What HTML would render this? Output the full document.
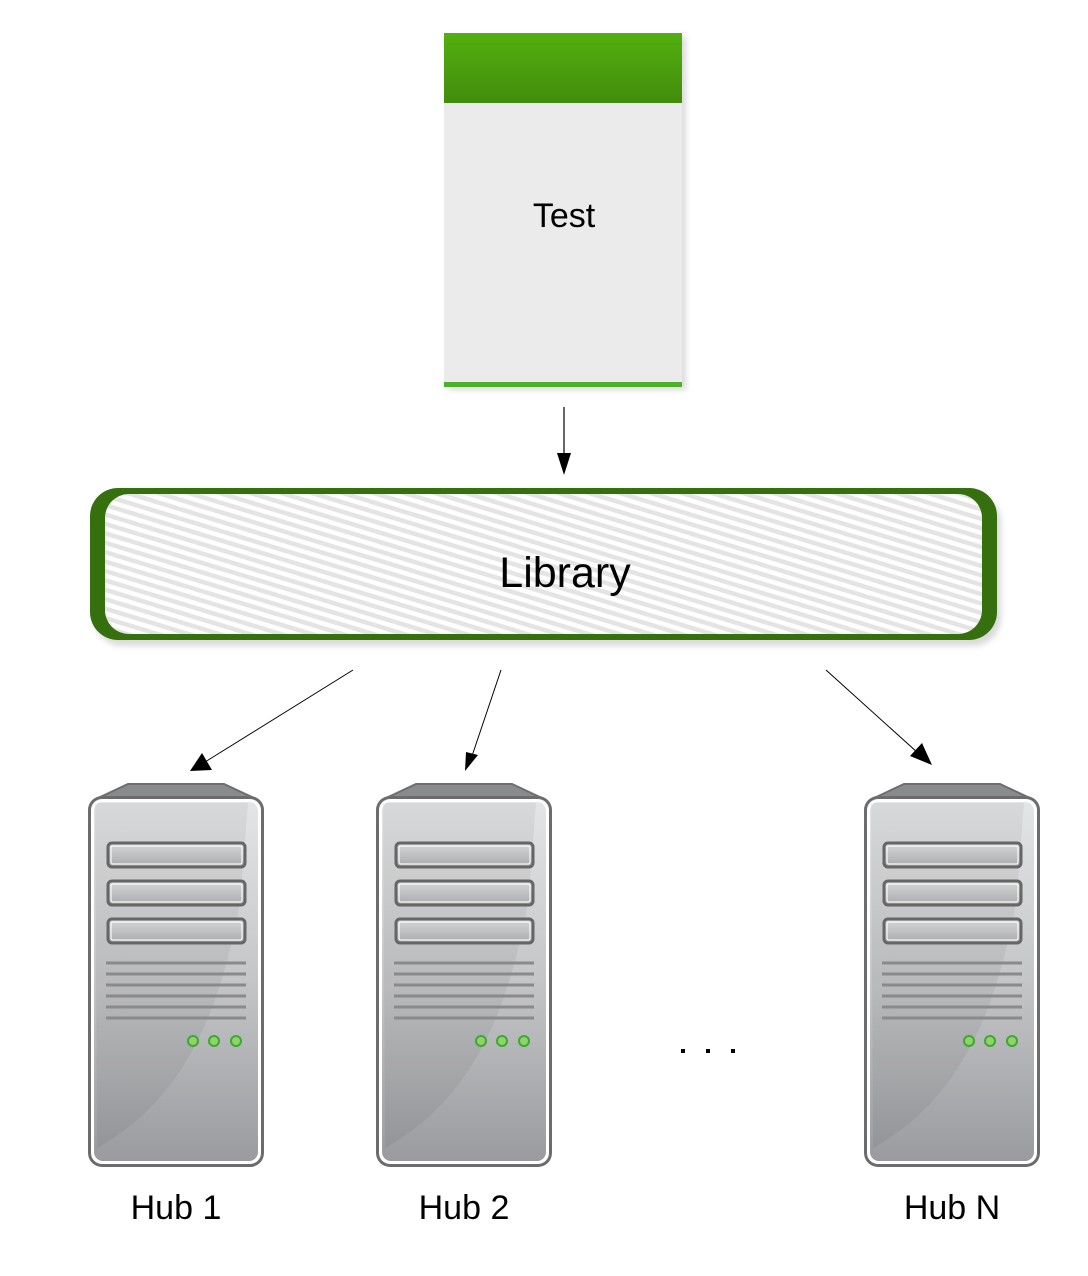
<!DOCTYPE html>
<html><head><meta charset="utf-8"><style>
html,body{margin:0;padding:0;background:#fff;}
svg{display:block;}
</style></head><body>
<svg width="1088" height="1276" viewBox="0 0 1088 1276" xmlns="http://www.w3.org/2000/svg" font-family="Liberation Sans, Arial, sans-serif">
<defs>
<linearGradient id="gr" x1="0" y1="0" x2="0" y2="1">
<stop offset="0" stop-color="#53b00f"/><stop offset="1" stop-color="#438c0c"/></linearGradient>
<pattern id="st" width="20" height="9" patternUnits="userSpaceOnUse" patternTransform="rotate(17)">
<rect width="20" height="9" fill="#fff"/><rect width="20" height="4.5" fill="#e4e4e4"/></pattern>
<linearGradient id="sv" x1="0" y1="0" x2="0" y2="1">
<stop offset="0" stop-color="#e4e5e6"/><stop offset="0.5" stop-color="#c4c5c7"/><stop offset="1" stop-color="#9a9b9e"/></linearGradient>
<linearGradient id="dr" x1="0" y1="0" x2="0" y2="1">
<stop offset="0" stop-color="#d6d7d8"/><stop offset="1" stop-color="#a9aaac"/></linearGradient>
<filter id="sh"><feGaussianBlur stdDeviation="3"/></filter>
<g id="srv">
<path d="M40 1 L136 1 L168 16 L8 16 Z" fill="#8a8b8d" stroke="#6e6e70" stroke-width="2"/>
<rect x="0" y="13" width="176" height="371" rx="14" fill="#6c6c6e"/>
<rect x="3" y="16" width="170" height="365" rx="11" fill="#fff"/>
<rect x="6" y="19" width="164" height="359" rx="9" fill="url(#sv)"/>
<path d="M9 365 C 90 320 130 240 152 120 L160 20 L7 20 Z" fill="#000" opacity="0.05"/>
<g stroke="#666" stroke-width="3" fill="url(#dr)">
<rect x="20" y="60" width="137" height="24" rx="4"/>
<rect x="20" y="98" width="137" height="24" rx="4"/>
<rect x="20" y="136" width="137" height="24" rx="4"/>
</g>
<g fill="none" stroke="#fff" stroke-width="1.2" opacity="0.9">
<rect x="23" y="63" width="131" height="18" rx="2"/>
<rect x="23" y="101" width="131" height="18" rx="2"/>
<rect x="23" y="139" width="131" height="18" rx="2"/>
</g>
<g stroke="#8a8a8c" stroke-width="3">
<line x1="18" y1="180" x2="158" y2="180"/><line x1="18" y1="191" x2="158" y2="191"/>
<line x1="18" y1="202" x2="158" y2="202"/><line x1="18" y1="213" x2="158" y2="213"/>
<line x1="18" y1="224" x2="158" y2="224"/><line x1="18" y1="235" x2="158" y2="235"/>
</g>
<g fill="#8fd36a" stroke="#3da832" stroke-width="2">
<circle cx="105" cy="258" r="5"/><circle cx="126" cy="258" r="5"/><circle cx="148" cy="258" r="5"/>
</g>
</g>
</defs>

<rect x="448" y="36" width="238" height="354" fill="#999" opacity="0.35" filter="url(#sh)"/>
<rect x="444" y="33" width="238" height="354" fill="#ebebeb"/>
<rect x="444" y="33" width="238" height="70" fill="url(#gr)"/>
<rect x="444" y="382" width="238" height="5" fill="#4cb02a"/>
<text x="564" y="227" font-size="34" text-anchor="middle" fill="#000">Test</text>

<line x1="564" y1="407" x2="564" y2="455" stroke="#000" stroke-width="1.2"/>
<path d="M557 453 L571 453 L564 475 Z" fill="#000"/>

<rect x="94" y="494" width="907" height="152" rx="28" fill="#888" opacity="0.3" filter="url(#sh)"/>
<rect x="90" y="488" width="907" height="152" rx="28" fill="#366f0d"/>
<rect x="105" y="494" width="877" height="140" rx="24" fill="url(#st)"/>
<text x="565" y="587" font-size="43" text-anchor="middle" fill="#000">Library</text>

<g stroke="#000" stroke-width="1">
<line x1="353" y1="670" x2="205" y2="762"/>
<line x1="501" y1="670" x2="472" y2="756"/>
<line x1="826" y1="670" x2="918" y2="753"/>
</g>
<path d="M190 771 L202 753 L212 770 Z" fill="#000"/>
<path d="M465 771 L466 752 L478 755 Z" fill="#000"/>
<path d="M932 765 L910 756 L922 743 Z" fill="#000"/>

<use href="#srv" x="88" y="783"/>
<use href="#srv" x="376" y="783"/>
<use href="#srv" x="864" y="783"/>

<g fill="#000"><rect x="681" y="1049" width="4" height="4"/><rect x="706" y="1049" width="4" height="4"/><rect x="731" y="1049" width="4" height="4"/></g>

<text x="176" y="1219" font-size="34" text-anchor="middle" fill="#000">Hub 1</text>
<text x="464" y="1219" font-size="34" text-anchor="middle" fill="#000">Hub 2</text>
<text x="952" y="1219" font-size="34" text-anchor="middle" fill="#000">Hub N</text>
</svg>
</body></html>
